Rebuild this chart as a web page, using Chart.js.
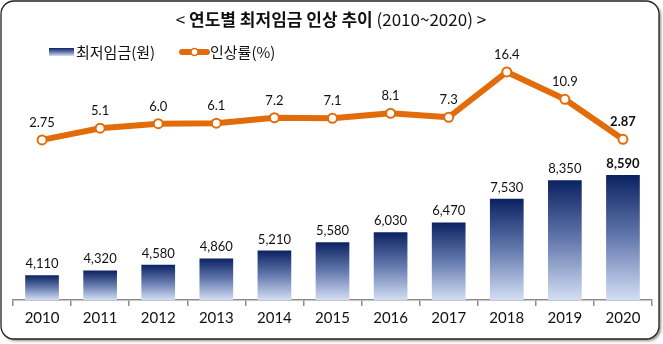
<!DOCTYPE html>
<html>
<head>
<meta charset="utf-8">
<script src="https://cdn.jsdelivr.net/npm/chart.js@4.4.1/dist/chart.umd.min.js"></script>
<style>
  html, body { margin: 0; padding: 0; background: #ffffff; }
  #wrap { width: 663px; height: 344px; }
</style>
</head>
<body>
<div id="wrap"><canvas id="c" width="663" height="344"></canvas></div>
<script>
// Minimum wage by year (KRW per hour) and the yearly raise (%)
const years = ['2010', '2011', '2012', '2013', '2014', '2015', '2016', '2017', '2018', '2019', '2020'];
const wages = [4110, 4320, 4580, 4860, 5210, 5580, 6030, 6470, 7530, 8350, 8590];
const raises = [2.75, 5.1, 6.0, 6.1, 7.2, 7.1, 8.1, 7.3, 16.4, 10.9, 2.87];

const titleParts = [
  { text: '< ', bold: false },
  { text: '연도별 최저임금 인상 추이', bold: true },
  { text: ' (2010~2020) >', bold: false }
];
const wageLegend = '최저임금(원)';
const raiseLegend = '인상률(%)';

const ORANGE = '#e36c0a';
const NUM_FONT = 'Lato, "Liberation Sans", sans-serif';
const KR_FONT = '"Noto Sans CJK KR", "Noto Sans", sans-serif';

function barGradient(ctx2d, top, bottom) {
  const g = ctx2d.createLinearGradient(0, top, 0, bottom);
  g.addColorStop(0, '#0b2262');
  g.addColorStop(0.5, '#6479ad');
  g.addColorStop(1, '#d3def5');
  return g;
}

const fmtWage = v => v.toLocaleString('en-US');
const fmtRaise = v => Number.isInteger(v) ? v.toFixed(1) : String(v);

// Rounded frame with a soft drop shadow behind the whole chart
const framePlugin = {
  id: 'frame',
  beforeDraw(chart) {
    const c = chart.ctx;
    c.save();
    c.beginPath();
    c.roundRect(1, 1, 658, 338, 13);
    c.shadowColor = 'rgba(0,0,0,0.45)';
    c.shadowOffsetX = 2;
    c.shadowOffsetY = 2;
    c.shadowBlur = 3;
    c.fillStyle = '#ffffff';
    c.fill();
    c.shadowColor = 'transparent';
    c.lineWidth = 1.3;
    c.strokeStyle = '#222222';
    c.stroke();
    c.restore();
  }
};

// Title (mixed weights) and the legend row
const headerPlugin = {
  id: 'header',
  afterDraw(chart) {
    const c = chart.ctx;
    c.save();
    c.textBaseline = 'middle';
    c.fillStyle = '#111111';
    const size = 17;
    let total = 0;
    titleParts.forEach(p => {
      c.font = (p.bold ? 'bold ' : '') + size + 'px ' + KR_FONT;
      p.w = c.measureText(p.text).width;
      total += p.w;
    });
    let x = 331 - total / 2;
    titleParts.forEach(p => {
      c.font = (p.bold ? 'bold ' : '') + size + 'px ' + KR_FONT;
      c.textAlign = 'left';
      c.fillText(p.text, x, 20);
      x += p.w;
    });

    // legend: bar swatch
    const ly = 52;
    c.fillStyle = barGradient(c, ly - 4, ly + 4);
    c.fillRect(49, ly - 4, 25, 8);
    c.font = '15px ' + KR_FONT;
    c.fillStyle = '#111111';
    c.fillText(wageLegend, 76, ly);
    // legend: line swatch with marker
    c.strokeStyle = ORANGE;
    c.lineWidth = 6;
    c.lineCap = 'round';
    c.beginPath();
    c.moveTo(182, ly);
    c.lineTo(207, ly);
    c.stroke();
    c.beginPath();
    c.arc(194.5, ly, 3.5, 0, Math.PI * 2);
    c.fillStyle = '#ffffff';
    c.fill();
    c.lineWidth = 1.5;
    c.stroke();
    c.fillStyle = '#111111';
    c.fillText(raiseLegend, 210, ly);
    c.restore();
  }
};

// Value labels above bars and line markers
const valueLabelPlugin = {
  id: 'valueLabels',
  afterDatasetsDraw(chart) {
    const c = chart.ctx;
    c.save();
    c.textAlign = 'center';
    c.textBaseline = 'alphabetic';
    c.fillStyle = '#111111';
    const last = years.length - 1;
    chart.getDatasetMeta(0).data.forEach((el, i) => {
      c.font = (i === last ? 'bold ' : '') + '13px ' + NUM_FONT;
      c.fillText(fmtWage(wages[i]), el.x, el.y - 7);
    });
    chart.getDatasetMeta(1).data.forEach((el, i) => {
      c.font = (i === last ? 'bold ' : '') + '13px ' + NUM_FONT;
      c.fillText(fmtRaise(raises[i]), el.x, el.y - 13);
    });
    c.restore();
  }
};

new Chart(document.getElementById('c'), {
  data: {
    labels: years,
    datasets: [
      {
        type: 'bar',
        label: wageLegend,
        data: wages,
        yAxisID: 'y',
        order: 2,
        barPercentage: 0.58,
        categoryPercentage: 1,
        backgroundColor(ctx) {
          const chart = ctx.chart;
          if (!chart.chartArea || ctx.type !== 'data') return '#3a5090';
          const y = chart.scales.y;
          const top = y.getPixelForValue(ctx.raw);
          const bottom = y.getPixelForValue(y.min);
          return barGradient(chart.ctx, top, bottom);
        },
        borderWidth: 0
      },
      {
        type: 'line',
        label: raiseLegend,
        data: raises,
        yAxisID: 'y2',
        order: 1,
        borderColor: ORANGE,
        borderWidth: 6,
        tension: 0,
        borderCapStyle: 'round',
        borderJoinStyle: 'round',
        pointRadius: 4.5,
        pointBorderWidth: 2,
        pointBackgroundColor: '#ffffff',
        pointBorderColor: ORANGE
      }
    ]
  },
  options: {
    responsive: false,
    animation: false,
    devicePixelRatio: 1,
    layout: { padding: { top: 54, left: 13, right: 11, bottom: 0 } },
    plugins: {
      legend: { display: false },
      title: { display: false },
      tooltip: { enabled: false }
    },
    scales: {
      x: {
        offset: true,
        afterFit(scale) { scale.height = 44; },
        grid: {
          offset: true,
          drawOnChartArea: false,
          drawTicks: true,
          tickLength: 6,
          color: '#8c8c8c',
          lineWidth: 1.5
        },
        border: { color: '#8c8c8c', width: 1.5 },
        ticks: {
          padding: 3,
          color: '#111111',
          font: { family: NUM_FONT, size: 15 }
        }
      },
      y: { display: false, min: 3000, max: 14000 },
      y2: { display: false, min: -29.4, max: 20, position: 'right' }
    }
  },
  plugins: [framePlugin, headerPlugin, valueLabelPlugin]
});
</script>
</body>
</html>
